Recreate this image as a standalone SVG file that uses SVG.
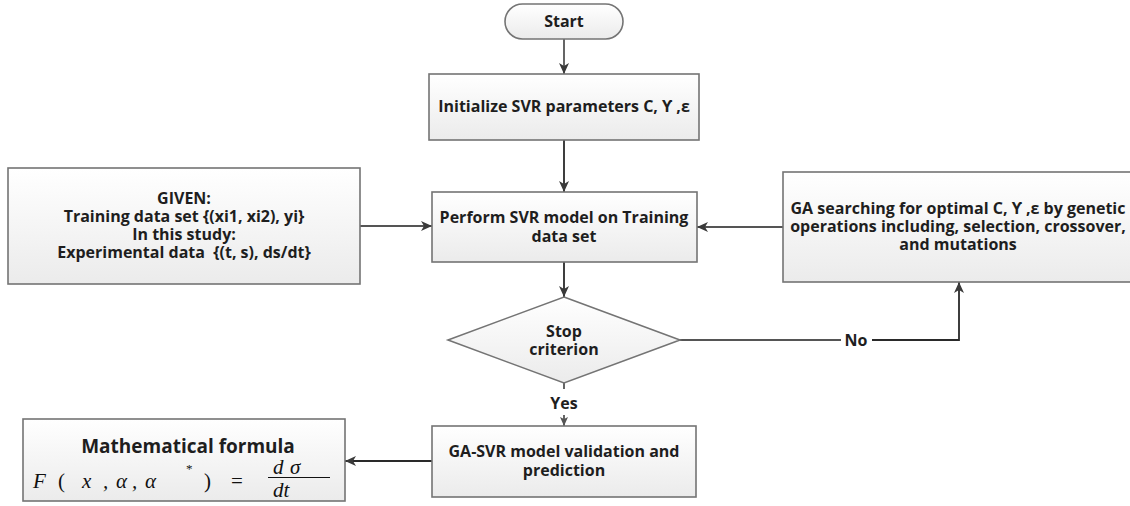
<svg xmlns="http://www.w3.org/2000/svg" width="1130" height="506" viewBox="0 0 1130 506">
<defs>
<linearGradient id="gbox" x1="0" y1="0" x2="0" y2="1">
<stop offset="0" stop-color="#ffffff"/>
<stop offset="1" stop-color="#ebebeb"/>
</linearGradient>
<marker id="arr" markerUnits="userSpaceOnUse" markerWidth="12" markerHeight="10" refX="11" refY="5" orient="auto">
<path d="M0,0 L11,5 L0,10 L3,5 Z" fill="#3a3a3a"/>
</marker>
<marker id="arrs" markerUnits="userSpaceOnUse" markerWidth="10" markerHeight="8" refX="9" refY="4" orient="auto">
<path d="M0,0 L9,4 L0,8 L2,4 Z" fill="#555"/>
</marker>
</defs>
<style>
.box{fill:url(#gbox);stroke:#747474;stroke-width:1.6}
.t{font-family:"Open Sans","Liberation Sans",sans-serif;font-weight:700;font-size:16px;fill:#1e1e1e;text-anchor:middle}
.c{fill:none;stroke:#555;stroke-width:1.8}
.cd{fill:none;stroke:#2a2a2a;stroke-width:1.8}
.m{font-family:"Liberation Serif",serif;font-style:italic;font-size:21px;fill:#111}
</style>

<g id="connectors">
<line class="c" x1="564" y1="39" x2="564" y2="74" marker-end="url(#arr)"/>
<line class="cd" x1="564" y1="140" x2="564" y2="192" marker-end="url(#arr)"/>
<line class="c" x1="360" y1="226" x2="432" y2="226" marker-end="url(#arr)"/>
<line class="c" x1="783" y1="227" x2="697" y2="227" marker-end="url(#arr)"/>
<line class="cd" x1="564" y1="262" x2="564" y2="297" marker-end="url(#arr)"/>
<line class="c" x1="680" y1="340" x2="841" y2="340"/>
<polyline class="cd" points="872,340 959,340 959,282" marker-end="url(#arr)"/>
<text class="t" x="856" y="346">No</text>
<line class="c" x1="564" y1="383" x2="564" y2="389"/>
<text class="t" x="564" y="409">Yes</text>
<line class="c" x1="564" y1="415" x2="564" y2="426" marker-end="url(#arrs)"/>
<line class="cd" x1="432" y1="461" x2="345" y2="461" marker-end="url(#arr)"/>
</g>

<g id="start">
<rect class="box" x="505" y="4" width="118" height="35" rx="17.5"/>
<text class="t" x="564" y="27">Start</text>
</g>

<g id="init">
<rect class="box" x="429" y="74" width="270" height="66"/>
<text class="t" x="564" y="112">Initialize SVR parameters C, ϒ ,ε</text>
</g>

<g id="given">
<rect class="box" x="8" y="168" width="352" height="116"/>
<text class="t" x="184" y="204">GIVEN:</text>
<text class="t" x="184" y="222">Training data set {(xi1, xi2), yi}</text>
<text class="t" x="184" y="240">In this study:</text>
<text class="t" x="184" y="258" xml:space="preserve">Experimental data  {(t, s), ds/dt}</text>
</g>

<g id="perform">
<rect class="box" x="432" y="192" width="265" height="70"/>
<text class="t" x="564" y="223">Perform SVR model on Training</text>
<text class="t" x="564" y="242">data set</text>
</g>

<g id="ga">
<rect class="box" x="783" y="172" width="360" height="110"/>
<text class="t" x="958" y="214">GA searching for optimal C, ϒ ,ε by genetic</text>
<text class="t" x="958" y="232">operations including, selection, crossover,</text>
<text class="t" x="958" y="250">and mutations</text>
</g>

<g id="stop">
<polygon class="box" points="564,297 680,340 564,383 448,340"/>
<text class="t" x="564" y="337">Stop</text>
<text class="t" x="564" y="355">criterion</text>
</g>

<g id="validation">
<rect class="box" x="432" y="426" width="264" height="71"/>
<text class="t" x="564" y="457">GA-SVR model validation and</text>
<text class="t" x="564" y="476">prediction</text>
</g>

<g id="formula">
<rect class="box" x="23" y="419" width="322" height="82"/>
<text class="t" x="188" y="453" style="font-size:19px">Mathematical formula</text>
<text class="m" y="488"><tspan x="33">F</tspan><tspan x="58" font-style="normal">(</tspan><tspan x="82">x</tspan><tspan x="103">,</tspan><tspan x="116">α</tspan><tspan x="132">,</tspan><tspan x="145">α</tspan><tspan x="186" y="473" font-size="13" font-style="normal">*</tspan><tspan x="204" y="488" font-style="normal">)</tspan><tspan x="231" font-style="normal">=</tspan></text>
<text class="m" y="474"><tspan x="273">d</tspan><tspan x="290">σ</tspan></text>
<line x1="268" y1="477.5" x2="330" y2="477.5" stroke="#111" stroke-width="1.2"/>
<text class="m" x="273" y="497">dt</text>
</g>
</svg>
